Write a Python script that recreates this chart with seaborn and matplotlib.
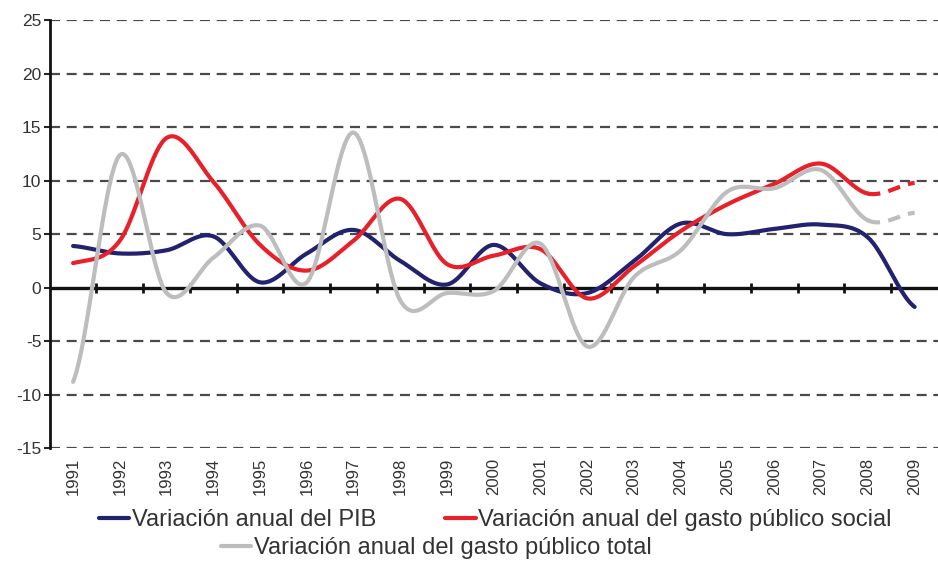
import numpy as np
import pandas as pd
import matplotlib
matplotlib.use("Agg")
import matplotlib.pyplot as plt
from matplotlib.lines import Line2D
import seaborn as sns

# -----------------------------
# Data
# -----------------------------
years = list(range(1991, 2010))
pib = [3.9, 3.2, 3.5, 4.8, 0.5, 3.2, 5.4, 2.5, 0.3, 4.0, 0.4, -0.5, 2.5, 6.0, 5.0, 5.5, 5.9, 4.7, -1.8]
gasto_social = [2.3, 4.4, 14.0, 9.9, 4.0, 1.6, 4.4, 8.3, 2.2, 3.0, 3.6, -1.0, 2.0, 5.3, 7.8, 9.7, 11.6, 8.8, 9.8]
gasto_total = [-8.8, 12.4, -0.5, 2.8, 5.8, 0.5, 14.5, -1.2, -0.5, -0.3, 4.1, -5.5, 1.0, 3.5, 9.0, 9.3, 11.0, 6.3, 7.0]

labels = ["Variación anual del PIB",
          "Variación anual del gasto público social",
          "Variación anual del gasto público total"]
colors = ["#22226e", "#e8202a", "#bdbdbd"]


def smooth(x, y, n=40):
    # Catmull-Rom curve through the points (like Excel's smoothed line)
    x = np.asarray(x, float)
    y = np.asarray(y, float)
    px = np.concatenate([[2 * x[0] - x[1]], x, [2 * x[-1] - x[-2]]])
    py = np.concatenate([[y[0]], y, [y[-1]]])
    xs, ys = [], []
    t = np.linspace(0, 1, n, endpoint=False)
    for i in range(1, len(px) - 2):
        for p, out in ((px, xs), (py, ys)):
            p0, p1, p2, p3 = p[i - 1], p[i], p[i + 1], p[i + 2]
            out.extend(0.5 * ((2 * p1) + (-p0 + p2) * t
                              + (2 * p0 - 5 * p1 + 4 * p2 - p3) * t ** 2
                              + (-p0 + 3 * p1 - 3 * p2 + p3) * t ** 3))
    xs.append(x[-1])
    ys.append(y[-1])
    return np.array(xs), np.array(ys)


sns.set_style("white")
plt.rcParams["font.family"] = ["Liberation Sans", "DejaVu Sans"]
plt.rcParams["axes.unicode_minus"] = False

fig = plt.figure(figsize=(9.38, 5.63), dpi=100)
ax = fig.add_axes([0.053, 0.204, 0.947, 0.76])

# gridlines
for v in range(-15, 30, 5):
    if v != 0:
        ax.axhline(v, color="#4a4a4a", lw=1.6, ls=(0, (4.5, 3)), zorder=1)
ax.axhline(0, color="#111111", lw=2.4, zorder=2)
ax.plot(np.arange(1991.5, 2009.0, 1.0), np.zeros(18), ls="none", marker="|",
        ms=7, mew=2, color="#111111", zorder=2)

series = [(pib, colors[0], False), (gasto_social, colors[1], True), (gasto_total, colors[2], True)]
for vals, col, dash_last in series:
    sx, sy = smooth(years, vals)
    if dash_last:
        cut = sx <= 2008
        sns.lineplot(x=sx[cut], y=sy[cut], color=col, lw=3, ax=ax, sort=False, zorder=3)
        sns.lineplot(x=sx[sx >= 2008], y=sy[sx >= 2008], color=col, lw=3, ax=ax,
                     sort=False, zorder=3, linestyle=(0, (3, 2)))
    else:
        sns.lineplot(x=sx, y=sy, color=col, lw=3, ax=ax, sort=False, zorder=3)

ax.set_xlim(1990.5, 2009.5)
ax.set_ylim(-15, 25)
ax.set_yticks(range(-15, 30, 5))
ax.set_xticks(years)
ax.set_xticklabels([str(y) for y in years], rotation=90, fontsize=12, color="#333333")
ax.tick_params(axis="x", length=0, pad=7)
ax.tick_params(axis="y", length=4, width=1.5, direction="out", labelsize=12.5,
               labelcolor="#333333", left=True, pad=2)
for s in ["top", "right", "bottom"]:
    ax.spines[s].set_visible(False)
ax.spines["left"].set_color("#111111")
ax.spines["left"].set_linewidth(2)
ax.set_xlabel("")
ax.set_ylabel("")

h = [Line2D([], [], color=c, lw=3) for c in colors]
fig.legend(h[:2], labels[:2], loc="center", bbox_to_anchor=(0.528, 0.076), ncol=2,
           frameon=False, fontsize=17, handlelength=1.3, handletextpad=0.12,
           columnspacing=2.9, labelcolor="#333333", borderpad=0.2)
fig.legend(h[2:], labels[2:], loc="center", bbox_to_anchor=(0.465, 0.027),
           frameon=False, fontsize=17, handlelength=1.3, handletextpad=0.12,
           labelcolor="#333333", borderpad=0.2)

fig.savefig("out.png", dpi=100)
